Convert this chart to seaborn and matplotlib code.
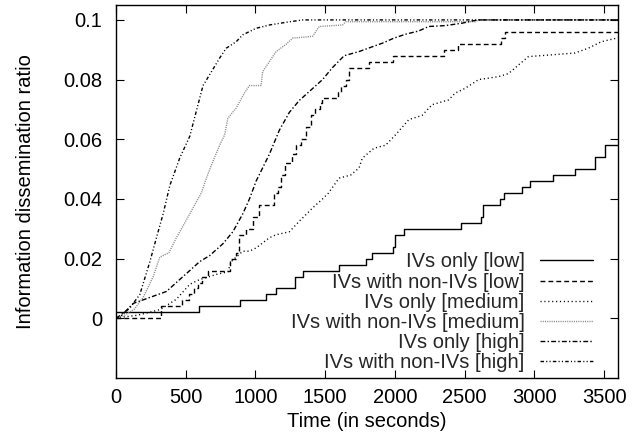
import matplotlib
matplotlib.use("Agg")
import matplotlib.pyplot as plt
import pandas as pd
import seaborn as sns

# ---------------- data ----------------
low_ivs_t = [0, 593, 886, 1076, 1148, 1286, 1338, 1600, 1790, 1838, 1986, 2000, 2064,
             2476, 2619, 2631, 2755, 2779, 2909, 2969, 3136, 3291, 3433, 3505, 3600]
low_ivs_v = [0.002, 0.004, 0.006, 0.008, 0.010, 0.014, 0.016, 0.018, 0.020, 0.022, 0.024,
             0.028, 0.030, 0.032, 0.034, 0.038, 0.040, 0.042, 0.044, 0.046, 0.048, 0.050,
             0.054, 0.058, 0.058]

low_mix_t = [0, 320, 470, 520, 560, 590, 620, 660, 820, 860, 880, 935, 980, 1024, 1136,
             1160, 1180, 1210, 1260, 1290, 1330, 1360, 1400, 1430, 1465, 1480, 1590, 1615,
             1650, 1670, 1815, 1990, 2355, 2452, 2760, 2790, 3600]
low_mix_v = [0.0, 0.004, 0.006, 0.008, 0.010, 0.012, 0.014, 0.016, 0.020, 0.022, 0.028,
             0.030, 0.034, 0.038, 0.042, 0.044, 0.048, 0.052, 0.055, 0.058, 0.060, 0.064,
             0.068, 0.070, 0.072, 0.074, 0.076, 0.078, 0.080, 0.084, 0.086, 0.088, 0.090,
             0.092, 0.094, 0.096, 0.096]

med_ivs_t = [0, 60, 150, 240, 320, 433, 529, 600, 719, 802, 826, 909, 957, 1005, 1100,
             1148, 1243, 1314, 1410, 1481, 1524, 1600, 1683, 1743, 1767, 1850, 1933, 2005,
             2100, 2195, 2267, 2386, 2433, 2505, 2600, 2743, 2814, 2957, 3124, 3290, 3386,
             3481, 3600]
med_ivs_v = [0, 0.0005, 0.001, 0.002, 0.003, 0.0064, 0.0114, 0.013, 0.0147, 0.0156, 0.019,
             0.0225, 0.0225, 0.0236, 0.027, 0.028, 0.029, 0.0325, 0.037, 0.040, 0.042, 0.047,
             0.048, 0.0504, 0.0537, 0.057, 0.058, 0.0615, 0.0666, 0.068, 0.0716, 0.0732,
             0.0755, 0.0771, 0.080, 0.081, 0.082, 0.0877, 0.0883, 0.0889, 0.0905, 0.0927,
             0.094]

med_mix_t = [0, 60, 130, 195, 267, 314, 380, 433, 505, 576, 612, 648, 695, 743, 779, 802,
             862, 921, 957, 1040, 1052, 1100, 1148, 1219, 1267, 1410, 1457, 1624, 1648,
             2576, 2600, 3600]
med_mix_v = [0, 0.001, 0.003, 0.007, 0.014, 0.0205, 0.022, 0.027, 0.033, 0.039, 0.042,
             0.047, 0.0526, 0.058, 0.0615, 0.067, 0.0705, 0.0755, 0.078, 0.078, 0.0827,
             0.086, 0.0894, 0.0918, 0.0939, 0.0945, 0.0978, 0.0983, 0.0994, 0.0994, 0.1, 0.1]

high_ivs_t = [0, 60, 124, 243, 362, 433, 529, 600, 671, 767, 838, 909, 957, 1005, 1100,
              1171, 1243, 1314, 1386, 1481, 1552, 1636, 1743, 1838, 1910, 1993, 2076, 2171,
              2243, 2362, 2481, 2560, 2600, 3600]
high_ivs_v = [0, 0.002, 0.005, 0.007, 0.009, 0.012, 0.016, 0.019, 0.021, 0.025, 0.029,
              0.035, 0.040, 0.046, 0.055, 0.063, 0.069, 0.073, 0.076, 0.080, 0.084, 0.088,
              0.0894, 0.091, 0.0922, 0.0939, 0.0952, 0.0963, 0.0978, 0.0981, 0.0989, 0.0997,
              0.1, 0.1]

high_mix_t = [0, 40, 100, 171, 243, 290, 338, 386, 457, 529, 588, 624, 671, 743, 790, 862,
              909, 1005, 1100, 1219, 1340, 3600]
high_mix_v = [0, 0.001, 0.0035, 0.008, 0.019, 0.027, 0.035, 0.0445, 0.0537, 0.061, 0.0716,
              0.078, 0.0816, 0.0872, 0.0905, 0.0927, 0.095, 0.0972, 0.0983, 0.0992, 0.1, 0.1]

labels = ["IVs only [low]", "IVs with non-IVs [low]", "IVs only [medium]",
          "IVs with non-IVs [medium]", "IVs only [high]", "IVs with non-IVs [high]"]

x_ticks = [0, 500, 1000, 1500, 2000, 2500, 3000, 3500]
y_ticks = [0, 0.02, 0.04, 0.06, 0.08, 0.1]
y_tick_labels = ["0", "0.02", "0.04", "0.06", "0.08", "0.1"]

# ---------------- plot ----------------
sns.set_theme(style="ticks")
plt.rcParams['font.family'] = ['Liberation Sans', 'DejaVu Sans']
FS = 14.5

fig = plt.figure(figsize=(6.37, 4.38), dpi=100)
ax = fig.add_axes([116 / 637, 1 - 378 / 438, 502 / 637, 373 / 438])

series = [
    (low_ivs_t, low_ivs_v, "black", "-", "steps-post"),
    (low_mix_t, low_mix_v, "black", (0, (3.5, 2.2)), "steps-post"),
    (med_ivs_t, med_ivs_v, "black", (0, (0.8, 2.0)), "default"),
    (med_mix_t, med_mix_v, "#8a8a8a", (0, (0.8, 0.8)), "default"),
    (high_ivs_t, high_ivs_v, "black", (0, (3.5, 1.6, 1.0, 1.6)), "default"),
    (high_mix_t, high_mix_v, "black", (0, (2.5, 1.6, 0.8, 1.6, 0.8, 1.6)), "default"),
]

for (t, v, color, ls, ds), lab in zip(series, labels):
    df = pd.DataFrame({"t": t, "v": v})
    sns.lineplot(data=df, x="t", y="v", ax=ax, color=color, linestyle=ls,
                 drawstyle=ds, linewidth=1.0, label=lab, legend=False,
                 estimator=None, sort=False)

ax.set_xlim(0, 3600)
ax.set_ylim(-0.02, 0.105)
ax.set_xticks(x_ticks)
ax.set_xticklabels([str(x) for x in x_ticks])
ax.set_yticks(y_ticks)
ax.set_yticklabels(y_tick_labels)
ax.tick_params(direction="in", top=True, right=True, length=6, width=0.8,
               labelsize=FS, color="black", labelcolor="black")
ax.tick_params(axis="y", pad=10)
ax.tick_params(axis="x", pad=7)
for sp in ax.spines.values():
    sp.set_color("black")
    sp.set_linewidth(1.0)

ax.set_xlabel("Time (in seconds)", fontsize=FS, color="black", labelpad=4)
ax.set_ylabel("Information dissemination ratio", fontsize=FS, color="black", labelpad=20)

ax.legend(loc="lower right", bbox_to_anchor=(0.95, 0.015), frameon=False,
          markerfirst=False, handlelength=2.65, handletextpad=0.75, labelspacing=0.06,
          borderpad=0, borderaxespad=0, fontsize=FS)

fig.savefig("out.png", dpi=100)
